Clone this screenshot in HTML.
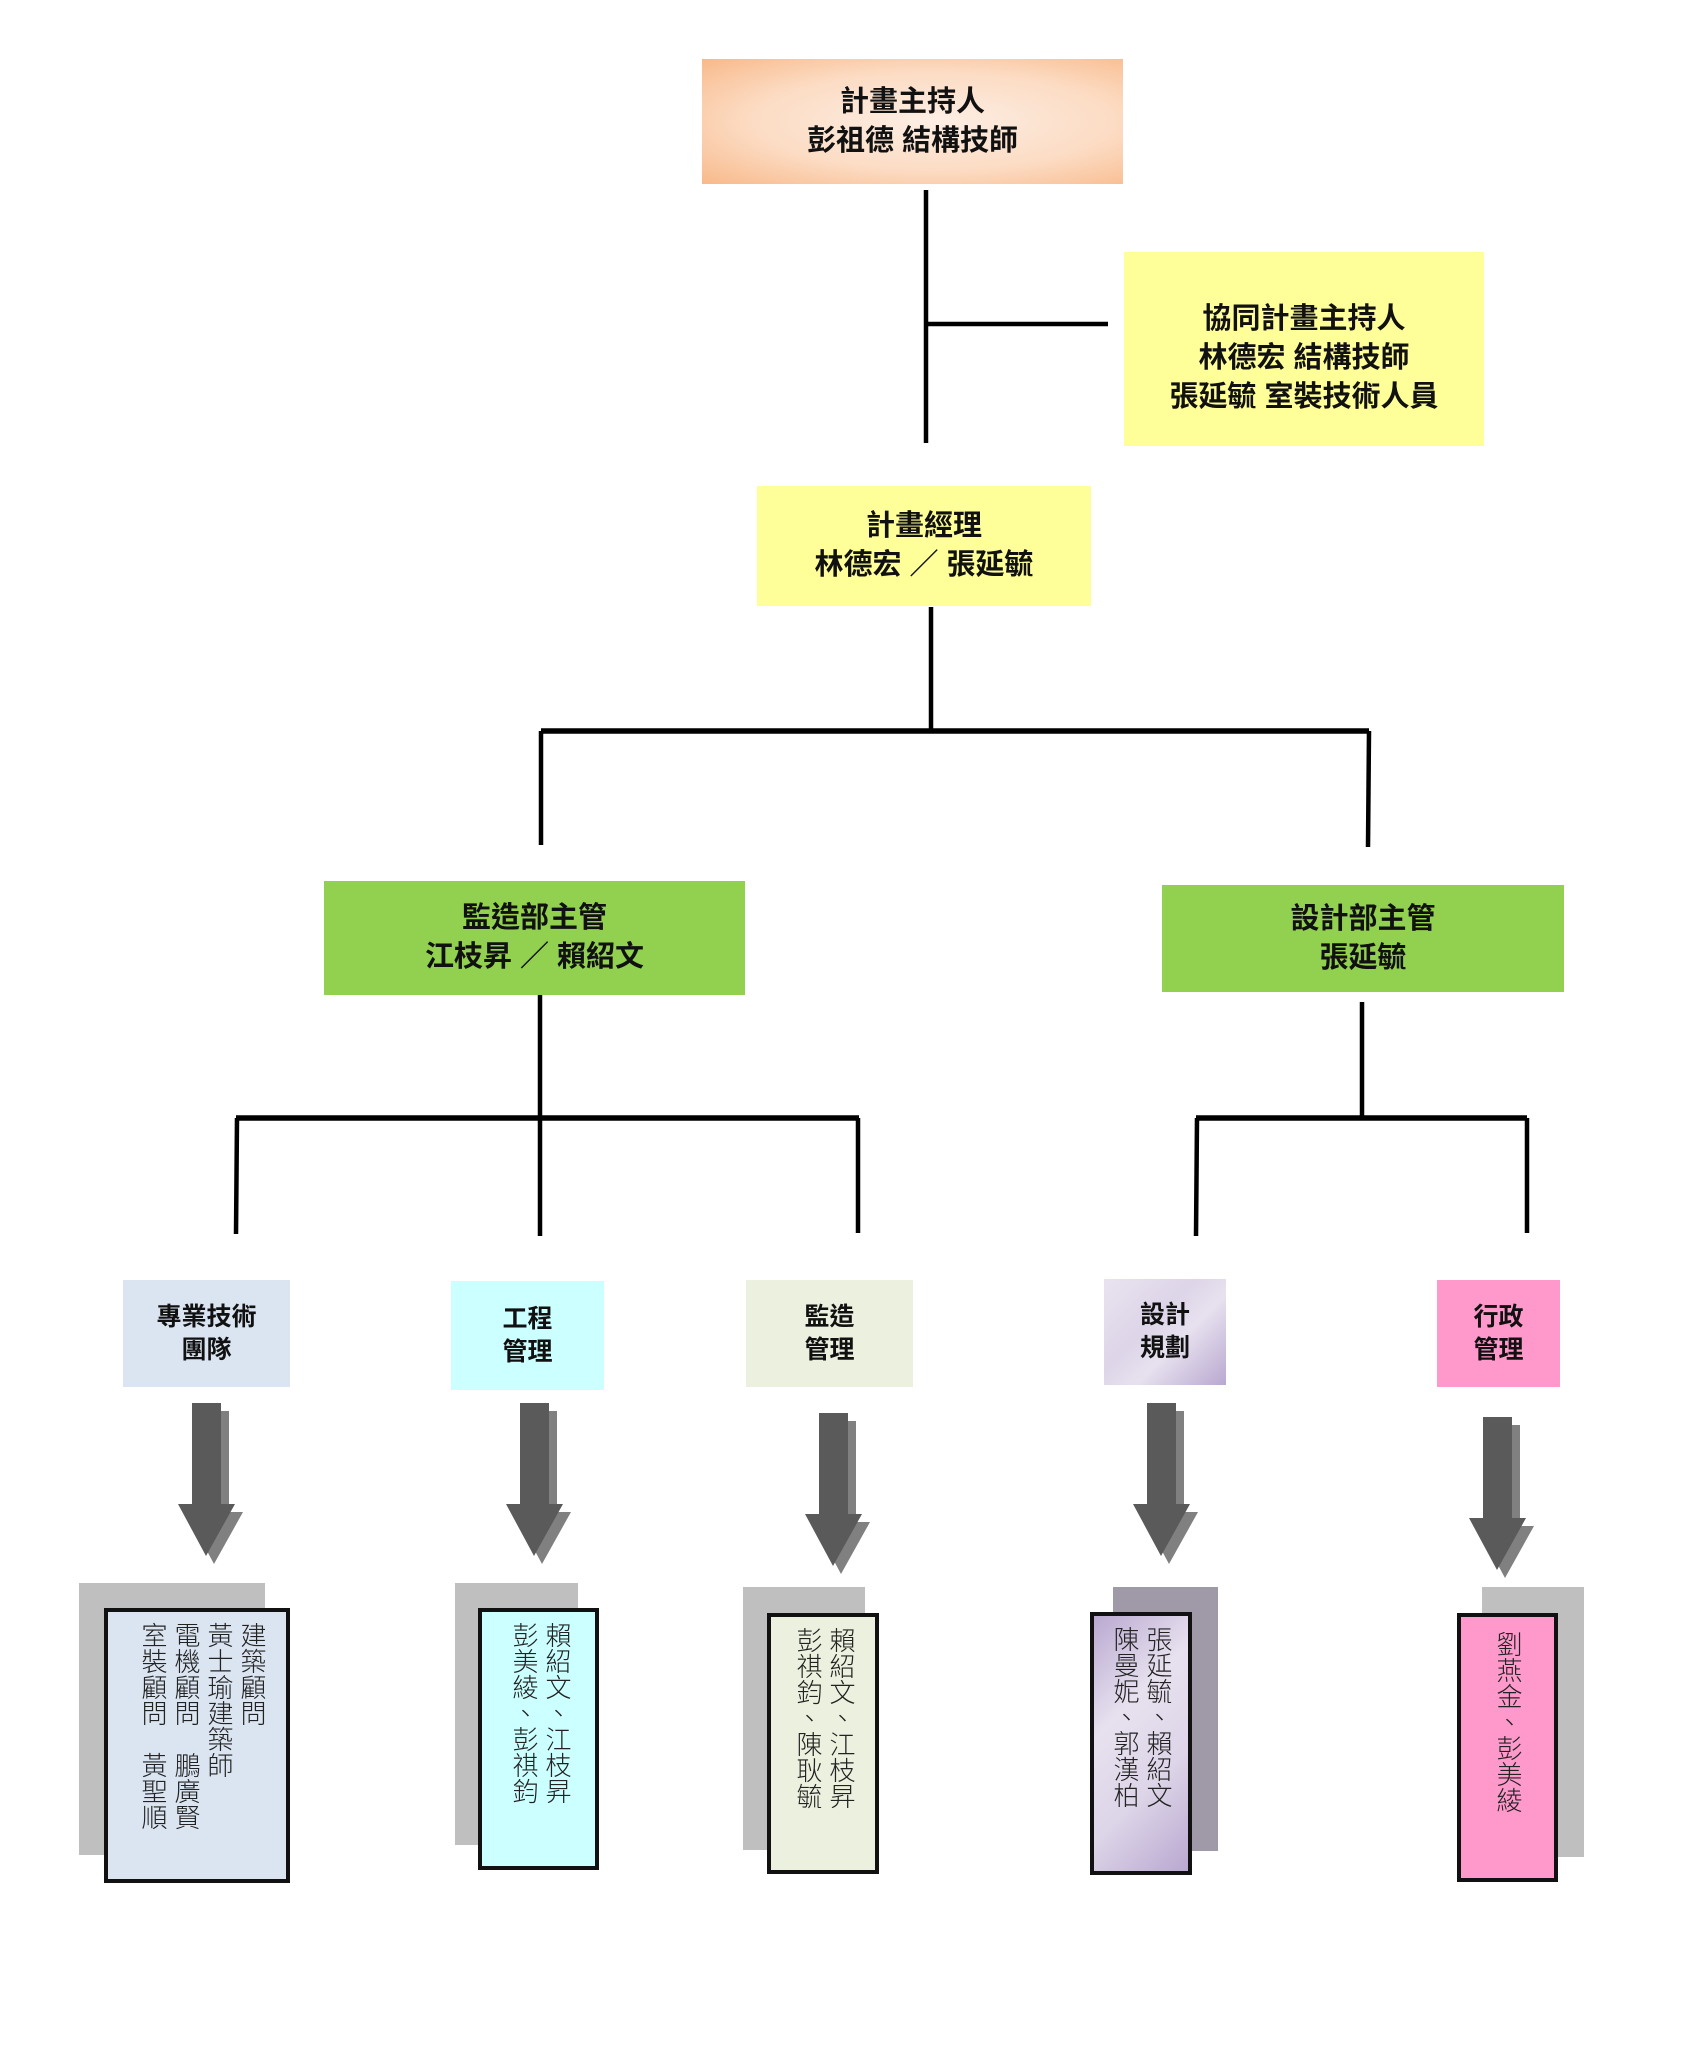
<!DOCTYPE html>
<html><head><meta charset="utf-8"><style>
html,body{margin:0;padding:0;background:#fff;}
body{width:1704px;height:2046px;position:relative;overflow:hidden;font-family:"Liberation Sans","Noto Sans CJK TC",sans-serif;}
.b{position:absolute;display:flex;align-items:center;justify-content:center;text-align:center;color:#111;font-weight:bold;box-sizing:border-box;}
.m{font-size:29px;line-height:39px;}
.s{font-size:25px;line-height:33px;}
.sh{position:absolute;}
.v{position:absolute;box-sizing:border-box;border:4px solid #111;writing-mode:vertical-rl;font-size:26px;line-height:33px;color:#222;padding-top:10px;font-family:"Noto Sans CJK TC",sans-serif;font-weight:300;}
</style></head><body>
<svg width="1704" height="2046" style="position:absolute;left:0;top:0">
<g stroke="#000" stroke-width="4.5" fill="none">
<line x1="926" y1="190" x2="926" y2="443"/>
<line x1="926" y1="324" x2="1108" y2="324"/>
<line x1="931" y1="607" x2="931" y2="731"/>
<line x1="541" y1="731" x2="1369" y2="731" stroke-width="5.5"/>
<line x1="541" y1="731" x2="541" y2="845"/>
<line x1="1369" y1="731" x2="1368" y2="847"/>
<line x1="540" y1="993" x2="540" y2="1236"/>
<line x1="236" y1="1118" x2="859" y2="1118" stroke-width="5.5"/>
<line x1="237" y1="1118" x2="236" y2="1234"/>
<line x1="858" y1="1118" x2="858" y2="1233"/>
<line x1="1362" y1="1002" x2="1362" y2="1118"/>
<line x1="1196" y1="1118" x2="1527" y2="1118" stroke-width="5.5"/>
<line x1="1197" y1="1118" x2="1196" y2="1236"/>
<line x1="1527" y1="1118" x2="1527" y2="1233"/>
</g>
<g>
<!-- arrows: shadow then main -->
<g transform="translate(0,0)">
<polygon fill="#808080" points="200,1411 229,1411 229,1512 243,1512 214,1564 186,1512 200,1512"/>
<polygon fill="#5a5a5a" points="192,1403 221,1403 221,1504 235,1504 206,1556 178,1504 192,1504"/>
</g>
<g transform="translate(328,0)">
<polygon fill="#808080" points="200,1411 229,1411 229,1512 243,1512 214,1564 186,1512 200,1512"/>
<polygon fill="#5a5a5a" points="192,1403 221,1403 221,1504 235,1504 206,1556 178,1504 192,1504"/>
</g>
<g transform="translate(627,10)">
<polygon fill="#808080" points="200,1411 229,1411 229,1512 243,1512 214,1564 186,1512 200,1512"/>
<polygon fill="#5a5a5a" points="192,1403 221,1403 221,1504 235,1504 206,1556 178,1504 192,1504"/>
</g>
<g transform="translate(955,0)">
<polygon fill="#808080" points="200,1411 229,1411 229,1512 243,1512 214,1564 186,1512 200,1512"/>
<polygon fill="#5a5a5a" points="192,1403 221,1403 221,1504 235,1504 206,1556 178,1504 192,1504"/>
</g>
<g transform="translate(1291,14)">
<polygon fill="#808080" points="200,1411 229,1411 229,1512 243,1512 214,1564 186,1512 200,1512"/>
<polygon fill="#5a5a5a" points="192,1403 221,1403 221,1504 235,1504 206,1556 178,1504 192,1504"/>
</g>
</g>
</svg>

<div class="b m" style="left:702px;top:59px;width:421px;height:125px;background:radial-gradient(ellipse at 55% 50%,#fdeee4 0%,#fcdcc4 55%,#f8b98a 100%);">計畫主持人<br>彭祖德 結構技師</div>
<div class="b m" style="left:1124px;top:252px;width:360px;height:194px;background:#ffff99;padding-top:18px;">協同計畫主持人<br>林德宏 結構技師<br>張延毓 室裝技術人員</div>
<div class="b m" style="left:757px;top:486px;width:334px;height:120px;background:#ffff99;">計畫經理<br>林德宏 ／ 張延毓</div>
<div class="b m" style="left:324px;top:881px;width:421px;height:114px;background:#92d050;">監造部主管<br>江枝昇 ／ 賴紹文</div>
<div class="b m" style="left:1162px;top:885px;width:402px;height:107px;background:#92d050;">設計部主管<br>張延毓</div>

<div class="b s" style="left:123px;top:1280px;width:167px;height:107px;background:#dbe5f1;">專業技術<br>團隊</div>
<div class="b s" style="left:451px;top:1281px;width:153px;height:109px;background:#ccffff;">工程<br>管理</div>
<div class="b s" style="left:746px;top:1280px;width:167px;height:107px;background:#ebf1de;">監造<br>管理</div>
<div class="b s" style="left:1104px;top:1279px;width:122px;height:106px;background:linear-gradient(135deg,#e9e3f0 0%,#ddd5e8 40%,#e7e1ef 60%,#b9a8d0 100%);">設計<br>規劃</div>
<div class="b s" style="left:1437px;top:1280px;width:123px;height:107px;background:#ff99cc;">行政<br>管理</div>

<div class="sh" style="left:79px;top:1583px;width:186px;height:272px;background:#bfbfbf;"></div>
<div class="v" style="left:104px;top:1608px;width:186px;height:275px;background:#dbe5f1;padding-right:16px;">建築顧問<br>黃士瑜建築師<br>電機顧問　鵬廣賢<br>室裝顧問　黃聖順</div>
<div class="sh" style="left:455px;top:1583px;width:123px;height:262px;background:#bfbfbf;"></div>
<div class="v" style="left:478px;top:1608px;width:121px;height:262px;background:#ccffff;padding-right:20px;">賴紹文、江枝昇<br>彭美綾、彭祺鈞</div>
<div class="sh" style="left:743px;top:1587px;width:122px;height:263px;background:#bfbfbf;"></div>
<div class="v" style="left:767px;top:1613px;width:112px;height:261px;background:#ebf1de;padding-right:16px;">賴紹文、江枝昇<br>彭祺鈞、陳耿毓</div>
<div class="sh" style="left:1113px;top:1587px;width:105px;height:264px;background:#a09aa8;"></div>
<div class="v" style="left:1090px;top:1612px;width:102px;height:263px;background:linear-gradient(135deg,#b9a8d0 0%,#e7e1ef 35%,#ddd5e8 65%,#b9a8d0 100%);padding-right:12px;">張延毓、賴紹文<br>陳曼妮、郭漢柏</div>
<div class="sh" style="left:1482px;top:1587px;width:102px;height:270px;background:#bfbfbf;"></div>
<div class="v" style="left:1457px;top:1613px;width:101px;height:269px;background:#ff99cc;padding-right:28px;padding-top:14px;">劉燕金、彭美綾</div>
</body></html>
